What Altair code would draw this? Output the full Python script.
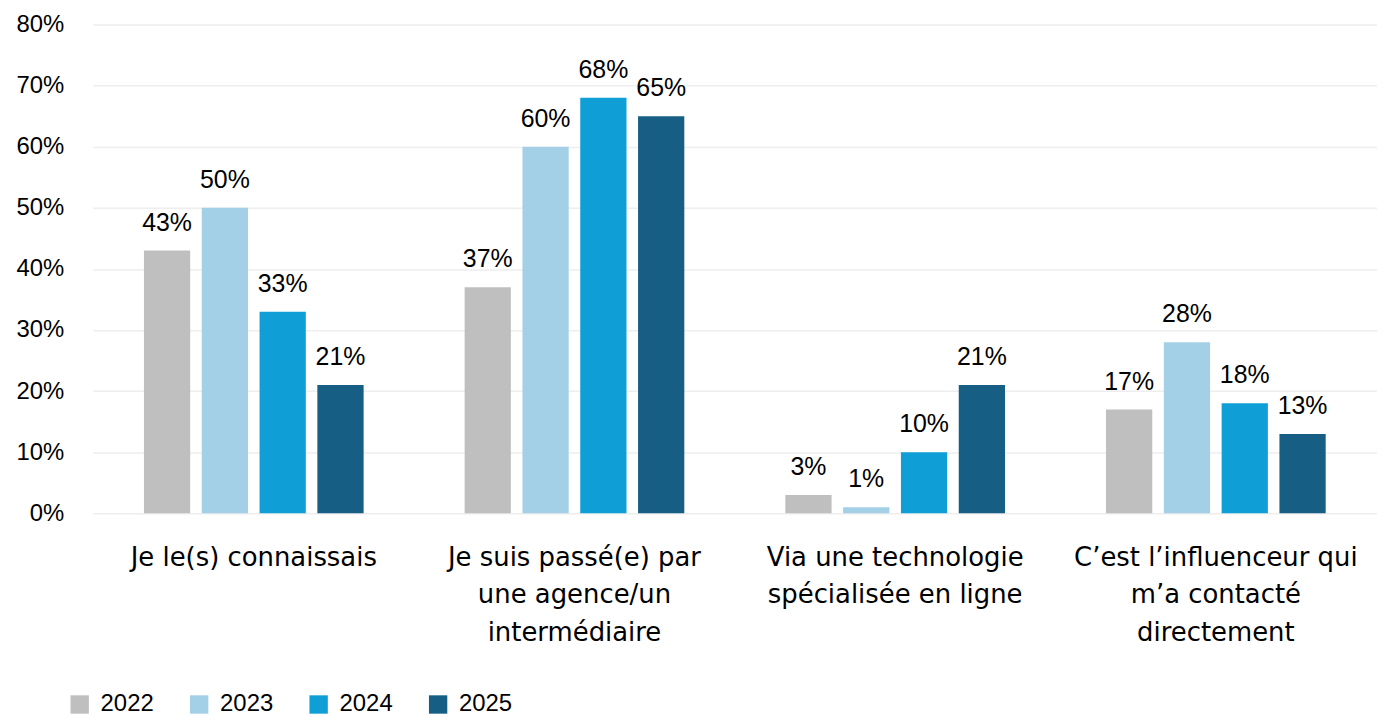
import altair as alt
import pandas as pd

categories = [
    "Je le(s) connaissais",
    "Je suis passé(e) par une agence/un intermédiaire",
    "Via une technologie spécialisée en ligne",
    "C’est l’influenceur qui m’a contacté directement",
]
label_lines = [
    ["Je le(s) connaissais"],
    ["Je suis passé(e) par", "une agence/un", "intermédiaire"],
    ["Via une technologie", "spécialisée en ligne"],
    ["C’est l’influenceur qui", "m’a contacté", "directement"],
]
years = ["2022", "2023", "2024", "2025"]
values_2022 = [43, 37, 3, 17]
values_2023 = [50, 60, 1, 28]
values_2024 = [33, 68, 10, 18]
values_2025 = [21, 65, 21, 13]
colors = ["#BFBFBF", "#A3D0E6", "#0F9ED5", "#165E83"]

rows = []
for y, vals in zip(years, [values_2022, values_2023, values_2024, values_2025]):
    for c, v in zip(categories, vals):
        rows.append({"cat": c, "year": y, "value": v / 100})
df = pd.DataFrame(rows)

expr = "''"
for c, lines in reversed(list(zip(categories, label_lines))):
    arr = "[" + ",".join("'" + l + "'" for l in lines) + "]"
    expr = f"datum.label == '{c}' ? {arr} : ({expr})"

FONT = "Liberation Sans"

base = alt.Chart(df).encode(
    x=alt.X("cat:N", sort=categories, title=None,
            scale=alt.Scale(paddingInner=0.315, paddingOuter=0.16),
            axis=alt.Axis(labelAngle=0, labelExpr=expr, labelFont="DejaVu Sans",
                          labelFontSize=26, labelColor="#000000", labelLineHeight=38,
                          labelPadding=31, ticks=False, domain=False, labelLimit=400,
                          labelBaseline="top")),
    xOffset=alt.XOffset("year:N", sort=years, scale=alt.Scale(paddingInner=0.2)),
)

bars = base.mark_bar().encode(
    y=alt.Y("value:Q", scale=alt.Scale(domain=[0, 0.8]), title=None,
            axis=alt.Axis(format=".0%", values=[0, .1, .2, .3, .4, .5, .6, .7, .8],
                          labelFont=FONT, labelFontSize=24, labelColor="#000000",
                          labelPadding=29, ticks=False, domain=False,
                          gridColor="#EEEEEE", gridWidth=1.5)),
    color=alt.Color("year:N", sort=years, scale=alt.Scale(domain=years, range=colors),
                    legend=alt.Legend(title=None, orient="none", legendX=-25, legendY=671,
                                      direction="horizontal", columns=4, symbolType="square",
                                      symbolSize=340, symbolStrokeWidth=0, labelFont=FONT,
                                      labelFontSize=24, labelColor="#000000",
                                      columnPadding=33, labelOffset=9)),
)

text = base.mark_text(baseline="bottom", dy=-15, font=FONT, fontSize=25, color="#000000").encode(
    y="value:Q",
    text=alt.Text("value:Q", format=".0%"),
)

chart = (bars + text).properties(
    width=1290, height=491,
    autosize=alt.AutoSizeParams(type="none"),
    padding={"left": 85, "top": 15, "right": 0, "bottom": 202},
    background="#FFFFFF",
).configure_view(stroke=None)

chart.save("out.html", embed_options={"renderer": "svg", "actions": False})
